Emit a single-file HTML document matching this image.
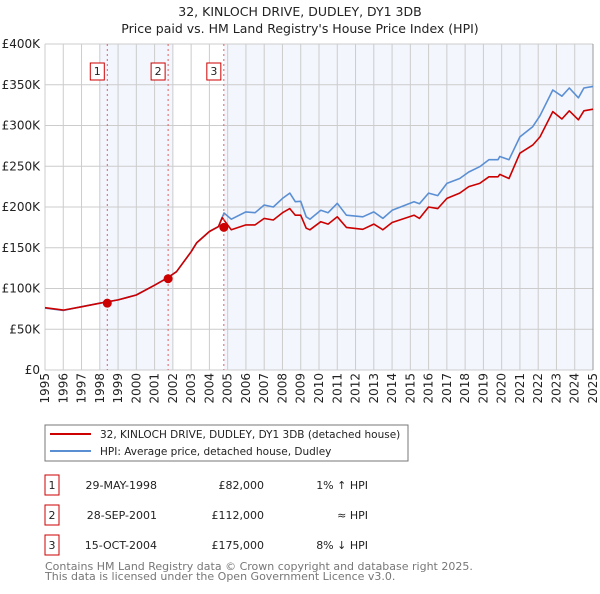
<!DOCTYPE html>
<html><head><meta charset="utf-8">
<style>
body{margin:0;background:#fff;font-family:"DejaVu Sans","Liberation Sans",sans-serif;}
svg text{font-family:"DejaVu Sans","Liberation Sans",sans-serif;}
</style></head>
<body>
<svg id="chart" width="600" height="590" viewBox="0 0 600 590" xmlns="http://www.w3.org/2000/svg">
<text x="300" y="16" text-anchor="middle" font-size="12.5" fill="#222">32, KINLOCH DRIVE, DUDLEY, DY1 3DB</text>
<text x="300" y="33" text-anchor="middle" font-size="12.5" fill="#222">Price paid vs. HM Land Registry's House Price Index (HPI)</text>
<g id="shade"></g><g id="grid"></g><g id="axes"></g><g id="series"></g><g id="marks"></g>
<g>
<rect x="45" y="425" width="363" height="36" fill="#fff" stroke="#777"/>
<line x1="50" y1="434" x2="91" y2="434" stroke="#cc0000" stroke-width="2"/>
<text x="100" y="438" font-size="10.5" fill="#222">32, KINLOCH DRIVE, DUDLEY, DY1 3DB (detached house)</text>
<line x1="50" y1="451" x2="91" y2="451" stroke="#5b8fd4" stroke-width="2"/>
<text x="100" y="455" font-size="10.5" fill="#222">HPI: Average price, detached house, Dudley</text>
</g>
<g id="table" font-size="11" fill="#222"></g>
<text x="45" y="570" font-size="11" fill="#777">Contains HM Land Registry data © Crown copyright and database right 2025.</text>
<text x="45" y="580" font-size="11" fill="#777">This data is licensed under the Open Government Licence v3.0.</text>
</svg>
<script>
const hpiYears=[1995,1996,1997,1998,1999,2000,2001,2001.7,2002.2,2003,2003.3,2004,2004.5,2004.8,2005.2,2006,2006.5,2007,2007.5,2008,2008.4,2008.7,2009,2009.3,2009.5,2010.1,2010.5,2011,2011.5,2012.4,2013,2013.5,2014,2015.2,2015.5,2016,2016.5,2017,2017.7,2018.2,2018.8,2019.3,2019.8,2019.9,2020.4,2021,2021.7,2022.1,2022.8,2023.3,2023.7,2024.2,2024.5,2025];
const hpiValues=[76,73,77.7,82,86,92,104,113,120.6,145,156,170,176,192.6,185,194,193,202.5,200,210.6,217,206.5,207,188,185,196,193,204.5,190,188,194,186,196,206.5,204,217,214,229,235,243,249.5,258,258,262,258,286,298.5,312,343.6,336,346,334,346,348];
const priceYears=[1995,1996,1997,1998,1999,2000,2001,2001.7,2002.2,2003,2003.3,2004,2004.5,2004.7,2005.2,2006,2006.5,2007,2007.5,2008,2008.4,2008.7,2009,2009.3,2009.5,2010.1,2010.5,2011,2011.5,2012.4,2013,2013.5,2014,2015.2,2015.5,2016,2016.5,2017,2017.7,2018.2,2018.8,2019.3,2019.8,2019.9,2020.4,2021,2021.7,2022.1,2022.8,2023.3,2023.7,2024.2,2024.5,2025];
const priceValues=[76.5,73.5,77.5,82,86,92,104,113,120.6,145,156,170,176,187,172,178,178,186,184,193,198,190,190,174,172,182,179,188,175,172.6,179,172,181,190,186,200,198,210.6,217,225,229,237,237,240,235,266,276,286,317,308,318,307,318,320];
const saleYears=[1998.41,2001.74,2004.79];
const salePrices=[82,112,175];
const saleDates=["29-MAY-1998","28-SEP-2001","15-OCT-2004"];
const salePriceLabels=["£82,000","£112,000","£175,000"];
const saleHpiLabels=["1% ↑ HPI","≈ HPI","8% ↓ HPI"];
const yTicks=[0,50,100,150,200,250,300,350,400];
const yTickLabels=["£0","£50K","£100K","£150K","£200K","£250K","£300K","£350K","£400K"];
const xTicks=[1995,1996,1997,1998,1999,2000,2001,2002,2003,2004,2005,2006,2007,2008,2009,2010,2011,2012,2013,2014,2015,2016,2017,2018,2019,2020,2021,2022,2023,2024,2025];

const NS="http://www.w3.org/2000/svg";
const X0=45,X1=593,Y0=370,Y1=44;
const xs=y=>X0+(y-1995)/30*(X1-X0);
const ys=v=>Y0-v/400*(Y0-Y1);
function mk(tag,attrs,parent){const e=document.createElementNS(NS,tag);for(const k in attrs)e.setAttribute(k,attrs[k]);document.getElementById(parent).appendChild(e);return e;}

let s=mk('rect',{x:xs(1998.0),y:Y1,width:xs(2002.0)-xs(1998.0),height:Y0-Y1,fill:'#f3f6fd'},'shade');


s=mk('rect',{x:xs(2004.79),y:Y1,width:X1-xs(2004.79),height:Y0-Y1,fill:'#f3f6fd'},'shade');



xTicks.forEach((t,i)=>{
  const l=mk('line',{x1:xs(t),x2:xs(t),y1:Y1,y2:Y0,stroke:'#cccccc','stroke-width':1},'grid');
  
  
  const tx=mk('text',{x:0,y:0,'font-size':12,fill:'#222','text-anchor':'end',transform:`translate(${xs(t)+4},373) rotate(-90)`},'axes');
  tx.textContent=String(t);
  
  
});
yTicks.forEach((t,i)=>{
  const l=mk('line',{x1:X0,x2:X1,y1:ys(t),y2:ys(t),stroke:'#cccccc','stroke-width':1},'grid');
  
  
  const tx=mk('text',{x:40,y:ys(t)+4,'font-size':12,fill:'#222','text-anchor':'end'},'axes');
  tx.textContent=yTickLabels[i];
  
  
});

function path(xsArr,vals,color,name){
  const d=xsArr.map((y,i)=>(i?'L':'M')+xs(y).toFixed(1)+','+ys(vals[i]).toFixed(1)).join('');
  const p=mk('path',{d:d,fill:'none',stroke:color,'stroke-width':1.6,'stroke-linejoin':'round'},'series');
  
  
}
path(hpiYears,hpiValues,'#5b8fd4','hpi-line');
path(priceYears,priceValues,'#cc0000','price-paid-line');

saleYears.forEach((y,i)=>{
  const l=mk('line',{x1:xs(y),x2:xs(y),y1:Y1,y2:Y0,stroke:'#e06060','stroke-width':1,'stroke-dasharray':'2,3'},'marks');
  
  
  const c=mk('circle',{cx:xs(y),cy:ys(salePrices[i]),r:4.5,fill:'#cc0000'},'marks');
  
  
  const b=mk('rect',{x:xs(y)-17,y:63,width:14,height:17,fill:'#fff',stroke:'#cc0000'},'marks');
  
  
  const t=mk('text',{x:xs(y)-10,y:75,'font-size':11,fill:'#222','text-anchor':'middle'},'marks');
  t.textContent=String(i+1);
  
  
  const ry=475+i*30;
  const tb=mk('rect',{x:45,y:ry,width:14,height:20,fill:'#fff',stroke:'#cc0000'},'table');
  
  
  const tn=mk('text',{x:52,y:ry+14,'text-anchor':'middle'},'table');
  tn.textContent=String(i+1);
  
  
  const td=mk('text',{x:157,y:ry+14,'text-anchor':'end'},'table');
  td.textContent=saleDates[i];
  
  
  const tp=mk('text',{x:264,y:ry+14,'text-anchor':'end'},'table');
  tp.textContent=salePriceLabels[i];
  
  
  const th=mk('text',{x:368,y:ry+14,'text-anchor':'end'},'table');
  th.textContent=saleHpiLabels[i];
  
  
});
const ax=mk('line',{x1:X1,x2:X1,y1:Y1,y2:Y0,stroke:'#999','stroke-width':1},'axes');


</script>
</body></html>
